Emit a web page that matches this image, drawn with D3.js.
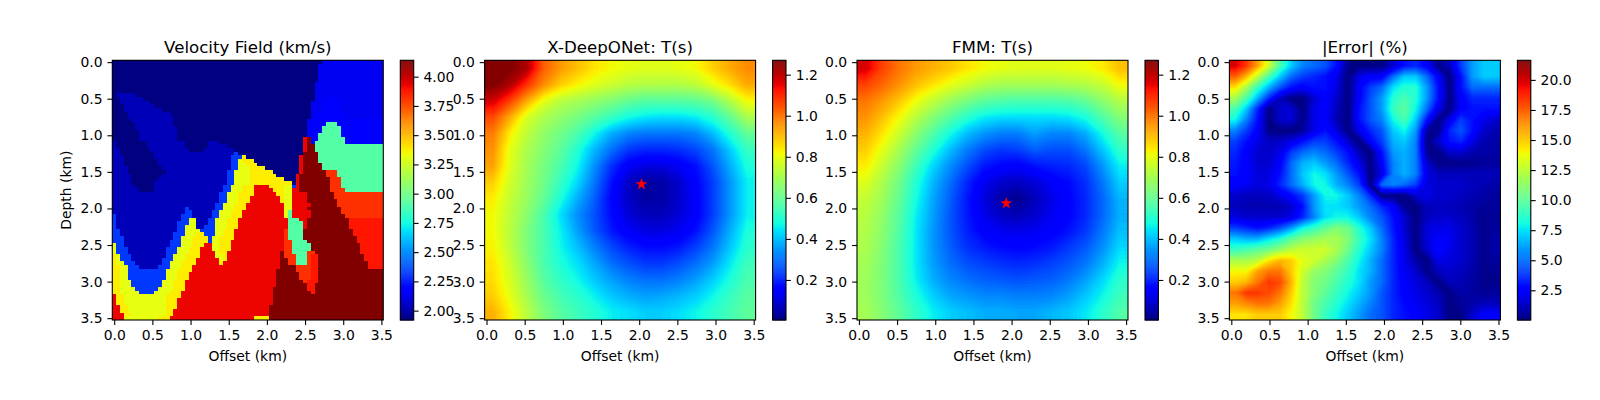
<!DOCTYPE html>
<html>
<head>
<meta charset="utf-8">
<script src="https://cdn.jsdelivr.net/npm/d3@7"></script>
<style>
  body { margin: 0; background: #fff; }
  text { font-family: "DejaVu Sans", sans-serif; fill: #000; }
</style>
</head>
<body>
<div id="chart"></div>
<script>
const titles = ['Velocity Field (km/s)', 'X-DeepONet: T(s)', 'FMM: T(s)', '|Error| (%)'];
const offsetTicks = [0, 0.5, 1, 1.5, 2, 2.5, 3, 3.5];
const velocityTicks = [2, 2.25, 2.5, 2.75, 3, 3.25, 3.5, 3.75, 4];
const timeTicks = [0.2, 0.4, 0.6, 0.8, 1, 1.2];
const errorTicks = [2.5, 5, 7.5, 10, 12.5, 15, 17.5, 20];
const velocityRange = [1.92, 4.14];
const timeRange = [0.005, 1.27];
const errorRange = [0.03, 21.63];
const gridExtent = [-0.025, 3.525];
const xDeepOnetSource = [2.03, 1.67];
const fmmSource = [1.93, 1.93];

// Velocity model, one string per depth row: code + column where that run stops
const velocityCodes = ['A', 'B', 'C', 'c', 'D', 'G', 'E', 'F', 'I', 'J', 'H', 'K'];
const velocityLevels = [1.92, 2.03, 2.14, 2.17, 2.32, 2.92, 3.32, 3.38, 3.83, 3.89, 3.93, 4.14];
const velocityRows = [
  'A55 C71',
  'A54 C71', 'A54 C71', 'A54 C71', 'A54 C71', 'A54 C71',
  'A53 C71', 'A53 C71', 'A53 C71',
  'A1 B6 A53 C71',
  'A2 B8 A53 C56 c59 C71',
  'A2 B10 A52 C55 c60 C71',
  'A3 B11 A52 C55 c60 C71',
  'A3 B13 A52 C55 c60 C71',
  'A4 B15 A52 C53 c61 C71',
  'A4 B16 A52 C53 c61 C71',
  'A5 B16 A51 C53 c71',
  'A6 B16 A51 C52 c56 G59 c71',
  'A6 B17 A51 C52 c55 G60 c71',
  'A7 B17 A51 C52 c55 G60 c71',
  'A7 B17 A51 C52 c54 G60 c71',
  'A7 B17 A50 H51 K52 c54 G61 c71',
  'B1 A9 B19 A25 B28 A50 H51 K52 c53 G61 c71',
  'B1 A9 B19 A25 B30 A50 H51 K53 G71',
  'B2 A10 B20 A24 B32 A50 H51 K53 G71',
  'B2 A11 B32 D33 A50 K54 G71',
  'B3 A11 B31 D34 F35 A49 H50 K54 G71',
  'B3 A12 B31 D33 E34 F37 A49 H50 K54 G71',
  'B3 A12 B31 D33 E35 F38 A49 H50 K55 G71',
  'B4 A13 B31 D33 E36 F40 A49 H50 K55 G71',
  'B4 A14 B30 D32 E36 F42 A49 H50 K56 I59 G71',
  'B5 A13 B30 D32 E36 F43 A48 H49 K56 I59 G71',
  'B5 A12 B30 D32 E36 F45 A48 H49 K57 I60 G71',
  'B5 A11 B30 D32 E36 F47 A48 H49 K57 I60 G71',
  'B6 A11 B29 D31 E34 F37 H41 F45 E47 D48 H49 K57 I60 G71',
  'B7 A11 B29 D31 E34 F37 H42 F45 E47 H49 K57 I61 G71',
  'B28 D30 E33 F37 H43 F45 E47 H51 K58 I71',
  'B28 D30 E33 F36 H44 F45 E47 H51 K58 I71',
  'B28 D30 E33 F36 H44 F45 E47 H51 K59 I71',
  'B27 D29 E32 F35 H45 E47 H52 K59 I71',
  'B19 D20 B27 D29 E32 F35 H45 E47 H51 K60 I71',
  'B19 D21 B26 D28 E31 F34 H45 E46 G47 H52 K60 I71',
  'D1 B18 D21 B26 D28 E31 F34 H45 E46 G47 H52 K61 I71',
  'D1 B18 D20 E22 B25 D27 E30 F33 H46 G49 H51 K62 J71',
  'D1 B17 D20 E22 B25 D27 E30 F33 H46 G50 H51 K62 J71',
  'D1 B17 D19 E22 B24 D27 E30 F33 H46 G50 H51 K62 J71',
  'D2 B17 D19 E23 D27 E29 F32 H45 I46 G50 K63 J71',
  'D2 B16 D19 E22 F24 D27 E29 F32 H45 I46 G50 K63 J71',
  'D3 B16 D18 E21 F25 D26 E28 F32 H45 I46 G50 K64 J71',
  'D3 B15 D18 E21 F25 D26 E28 F31 H45 I47 G51 K64 J71',
  'E1 D3 B15 D18 E21 F24 H26 E28 F31 H45 I47 G52 K65 J71',
  'E1 D4 B14 D17 E20 F23 H26 E28 F31 H45 I47 G52 K65 J71',
  'E1 D4 B14 D17 E20 F23 H27 E28 F30 H44 K45 I47 G51 I53 K65 J71',
  'F1 E2 D5 B14 D16 E19 F23 H27 E29 F30 H44 K45 I48 G51 I52 J54 K66 J71',
  'F1 E2 D5 B13 D16 E19 F22 H28 E29 F30 H44 K46 I48 G51 I52 J54 K66 J71',
  'F1 E3 D6 B13 D15 E18 F22 H28 F29 H44 K46 I48 G51 I52 J54 K67 J71',
  'F2 E4 D7 B12 D15 E18 F21 H44 K48 I52 J54 K67 J71',
  'F2 E4 D14 E17 F21 H43 K48 I52 J54 K71',
  'F2 E4 D14 E17 F20 H43 K49 I52 J54 K71',
  'F2 E4 D14 E17 F20 H43 K49 I52 J54 K71',
  'F2 E5 D13 E16 F19 H43 K50 I51 J54 K71',
  'F2 E5 D13 E16 F19 H43 K51 J53 K71',
  'F2 E6 D12 E16 F19 H42 K51 J53 K71',
  'F2 E7 D11 E15 F18 H42 K52 J53 K71',
  'H1 F3 E14 F18 H42 K71',
  'H1 F3 E14 F17 H42 K71',
  'H1 F3 E14 F17 H42 K71',
  'H2 F4 E14 F17 H41 K71',
  'H2 F4 E14 F16 H41 K71',
  'H3 F5 E14 F16 H41 K71',
  'H3 E12 F15 H37 F41 K71'
];

const xDeepOnetTimes = [
  [1.27, 1.27, 1.22, 1.03, 0.95, 0.90, 0.85, 0.82, 0.80, 0.79, 0.79, 0.80, 0.82, 0.88, 0.93, 0.97],
  [1.27, 1.22, 1.09, 0.97, 0.88, 0.83, 0.79, 0.76, 0.73, 0.72, 0.72, 0.72, 0.74, 0.80, 0.86, 0.93],
  [1.18, 1.07, 0.93, 0.80, 0.73, 0.70, 0.67, 0.64, 0.60, 0.58, 0.58, 0.58, 0.59, 0.63, 0.72, 0.82],
  [1.06, 0.93, 0.78, 0.71, 0.67, 0.63, 0.58, 0.53, 0.48, 0.45, 0.44, 0.44, 0.46, 0.51, 0.60, 0.71],
  [0.99, 0.84, 0.74, 0.67, 0.62, 0.56, 0.47, 0.38, 0.33, 0.31, 0.31, 0.31, 0.33, 0.40, 0.50, 0.60],
  [0.96, 0.80, 0.71, 0.65, 0.59, 0.50, 0.39, 0.30, 0.23, 0.21, 0.21, 0.22, 0.25, 0.31, 0.42, 0.53],
  [0.94, 0.79, 0.70, 0.63, 0.56, 0.47, 0.34, 0.22, 0.14, 0.11, 0.11, 0.14, 0.18, 0.27, 0.38, 0.49],
  [0.88, 0.77, 0.69, 0.62, 0.53, 0.43, 0.31, 0.18, 0.08, 0.04, 0.05, 0.09, 0.16, 0.24, 0.35, 0.46],
  [0.84, 0.75, 0.68, 0.60, 0.49, 0.38, 0.28, 0.16, 0.08, 0.04, 0.05, 0.09, 0.15, 0.24, 0.35, 0.46],
  [0.82, 0.74, 0.66, 0.56, 0.44, 0.34, 0.26, 0.17, 0.10, 0.07, 0.07, 0.10, 0.15, 0.24, 0.35, 0.46],
  [0.82, 0.73, 0.64, 0.56, 0.46, 0.36, 0.27, 0.19, 0.14, 0.11, 0.11, 0.13, 0.18, 0.27, 0.38, 0.49],
  [0.83, 0.74, 0.64, 0.56, 0.47, 0.40, 0.32, 0.25, 0.20, 0.17, 0.17, 0.19, 0.24, 0.31, 0.41, 0.51],
  [0.85, 0.76, 0.66, 0.56, 0.49, 0.44, 0.37, 0.30, 0.26, 0.23, 0.23, 0.26, 0.30, 0.36, 0.45, 0.54],
  [0.86, 0.78, 0.68, 0.58, 0.52, 0.47, 0.41, 0.36, 0.32, 0.30, 0.30, 0.32, 0.36, 0.42, 0.49, 0.56],
  [0.88, 0.80, 0.70, 0.61, 0.55, 0.51, 0.46, 0.41, 0.38, 0.36, 0.37, 0.39, 0.42, 0.47, 0.53, 0.58],
  [0.92, 0.83, 0.73, 0.64, 0.58, 0.54, 0.50, 0.46, 0.44, 0.42, 0.42, 0.44, 0.47, 0.51, 0.55, 0.59]
];

const fmmTimes = [
  [1.18, 1.07, 1.00, 0.95, 0.92, 0.89, 0.85, 0.82, 0.80, 0.79, 0.79, 0.79, 0.80, 0.81, 0.84, 0.90],
  [1.07, 1.02, 0.96, 0.90, 0.85, 0.80, 0.76, 0.72, 0.70, 0.70, 0.70, 0.70, 0.71, 0.72, 0.75, 0.82],
  [1.00, 0.95, 0.89, 0.81, 0.74, 0.68, 0.63, 0.59, 0.57, 0.56, 0.56, 0.56, 0.57, 0.60, 0.66, 0.72],
  [0.96, 0.90, 0.82, 0.73, 0.65, 0.58, 0.51, 0.46, 0.44, 0.44, 0.44, 0.44, 0.45, 0.49, 0.57, 0.65],
  [0.92, 0.85, 0.76, 0.66, 0.57, 0.48, 0.40, 0.35, 0.32, 0.32, 0.36, 0.33, 0.33, 0.38, 0.48, 0.58],
  [0.88, 0.80, 0.70, 0.60, 0.50, 0.40, 0.32, 0.26, 0.23, 0.24, 0.28, 0.26, 0.26, 0.31, 0.41, 0.52],
  [0.84, 0.75, 0.66, 0.54, 0.43, 0.34, 0.26, 0.19, 0.16, 0.15, 0.18, 0.20, 0.21, 0.25, 0.35, 0.46],
  [0.79, 0.71, 0.62, 0.50, 0.39, 0.30, 0.21, 0.13, 0.09, 0.08, 0.10, 0.14, 0.17, 0.22, 0.31, 0.42],
  [0.75, 0.69, 0.60, 0.48, 0.37, 0.28, 0.19, 0.11, 0.05, 0.02, 0.07, 0.12, 0.16, 0.21, 0.29, 0.39],
  [0.73, 0.67, 0.58, 0.46, 0.36, 0.27, 0.19, 0.12, 0.08, 0.06, 0.09, 0.13, 0.16, 0.21, 0.29, 0.38],
  [0.72, 0.66, 0.57, 0.45, 0.35, 0.27, 0.20, 0.15, 0.13, 0.12, 0.13, 0.15, 0.18, 0.23, 0.31, 0.40],
  [0.71, 0.65, 0.56, 0.45, 0.35, 0.28, 0.22, 0.19, 0.17, 0.16, 0.17, 0.19, 0.23, 0.27, 0.34, 0.43],
  [0.70, 0.64, 0.56, 0.45, 0.36, 0.30, 0.26, 0.24, 0.22, 0.21, 0.22, 0.24, 0.27, 0.31, 0.38, 0.47],
  [0.69, 0.64, 0.56, 0.46, 0.38, 0.33, 0.30, 0.28, 0.27, 0.26, 0.27, 0.28, 0.31, 0.36, 0.43, 0.51],
  [0.69, 0.64, 0.57, 0.49, 0.42, 0.37, 0.35, 0.33, 0.33, 0.32, 0.32, 0.33, 0.36, 0.41, 0.47, 0.54],
  [0.70, 0.65, 0.59, 0.52, 0.46, 0.42, 0.40, 0.38, 0.38, 0.37, 0.37, 0.39, 0.41, 0.45, 0.51, 0.57]
];

const errorPercents = [
  [20, 18.5, 16, 13, 9.5, 7, 5.5, 5, 4.5, 3, 0.3, 0.1, 0.1, 0.2, 1.5, 3, 3.5, 2.5, 0.3, 1.2, 4, 6, 7, 7],
  [17.5, 15.5, 12.5, 9.5, 7, 5, 4, 3.5, 3, 2, 0.1, 2, 2.5, 2.5, 5, 7, 7, 5, 2.5, 0.1, 3, 6, 7, 7],
  [14.5, 12, 9, 6.5, 4.5, 3, 2.5, 3, 3, 1.8, 0.1, 2.5, 4, 5, 7.5, 8.5, 8.5, 6, 3, 0.1, 3, 5, 5, 5],
  [12, 9.5, 6.5, 3.5, 1.2, 0.1, 0.1, 1.5, 2.5, 1.5, 0.1, 2.5, 4.5, 6, 8.5, 9.5, 8.5, 6, 3, 0.1, 2.5, 3.5, 3.5, 3.5],
  [9.5, 7, 3.5, 0.1, 1.5, 1.6, 0.1, 2, 2.5, 1.2, 0.1, 3, 4.5, 6, 9, 10, 8, 5, 2, 0.2, 2.5, 3, 3, 3],
  [8, 5.5, 3, 0.1, 1.5, 1.6, 0.3, 2, 2.5, 1, 0.1, 3, 4.5, 5.5, 8, 9.5, 7, 3, 0.2, 2, 4, 3, 2, 1.5],
  [5.5, 4, 2.5, 0.2, 0.1, 0.1, 0.6, 2, 3, 1.8, 0.1, 2, 3.5, 4.5, 7, 8, 6, 0.6, 0.3, 3.5, 4.5, 3, 1.5, 1],
  [4, 3, 2, 1.2, 1.5, 2, 3, 4, 4, 3, 1.5, 0.1, 2.5, 4, 6.5, 7, 5.5, 0.1, 1.5, 3, 3.5, 2, 1, 0.8],
  [3.5, 2.5, 1.5, 1.5, 2, 4, 5, 5.5, 5, 4, 3, 1, 0.1, 3, 6, 6.5, 5.5, 0.4, 0.2, 1.5, 1.5, 1, 0.8, 0.8],
  [3.2, 2.5, 1.5, 1.5, 2.5, 5, 6.5, 7, 6, 5, 3.5, 2, 0.1, 2.5, 5.5, 6.5, 5.5, 1.5, 0.2, 0.2, 0.2, 0.3, 0.5, 0.6],
  [3, 2.5, 1.8, 1.8, 3, 5, 7, 8, 7.5, 6, 4.5, 3, 0.1, 2, 5.5, 6.5, 5.5, 2, 1.2, 1.2, 1.2, 1.2, 1.2, 1.2],
  [2.5, 2.2, 1.8, 2, 3.5, 5, 6.5, 8, 8, 6.5, 5.5, 4, 0.1, 5, 5.5, 5, 4, 1.8, 1.5, 1.5, 1.5, 1.2, 1, 0.8],
  [1.5, 1.2, 1.2, 1.3, 2, 2.8, 4, 6, 8, 8, 7, 5.5, 3.5, 0.1, 0.1, 0.1, 1.5, 2, 1.5, 1.5, 1.2, 1, 0.8, 0.6],
  [1.2, 1, 0.9, 1, 1, 1.5, 3, 6, 7.5, 7.5, 7, 6, 5, 3.5, 2.5, 0.4, 0.1, 1.2, 1.2, 1.2, 1, 0.8, 0.4, 0.6],
  [1.8, 1.5, 1.5, 1.5, 1.5, 2, 3.5, 5.5, 7.5, 8, 8, 7, 5.5, 4.5, 3, 1.5, 0.1, 1.2, 1.5, 1.5, 1.2, 0.8, 0.3, 0.5],
  [4, 3.5, 3, 3.5, 4.5, 6, 8, 9, 10, 11, 10.5, 8.5, 7, 5, 3.2, 1.5, 0.1, 1.8, 2, 2, 1.5, 1, 0.3, 0.6],
  [7, 6.5, 6.5, 7.5, 8.5, 10, 11, 11.5, 12, 12, 11, 9, 7.5, 5.5, 3.5, 1.8, 0.1, 1.8, 2.5, 2.2, 1.5, 1, 0.3, 0.8],
  [9, 9.5, 10, 10.5, 11.5, 12.5, 13, 13, 13, 12, 10.5, 8.5, 7, 5.5, 3.5, 2, 0.1, 1.5, 2.8, 2, 1.5, 1, 0.3, 0.8],
  [12, 12, 12.5, 14.5, 15.5, 15, 13.5, 13, 12, 11, 9.5, 8, 6.5, 5, 3.5, 2, 0.8, 0.1, 2, 1.8, 1.5, 1, 0.3, 0.6],
  [14, 14, 16, 17, 17, 15, 13, 11.5, 11, 10, 9, 7.5, 6.5, 5, 3.5, 2.2, 1.5, 0.2, 1.2, 1.5, 1.2, 0.8, 0.3, 0.4],
  [15, 15.5, 17, 18.5, 18, 15.5, 12.5, 11, 10.5, 9.5, 8.5, 7.5, 6, 5, 3.5, 2.5, 1.8, 1.2, 0.1, 1.2, 1, 0.7, 0.3, 0.3],
  [17, 18.5, 18.5, 18, 17, 15, 12.5, 11, 10, 9, 8, 7, 6, 4.5, 3.5, 2.5, 2, 1.5, 1, 0.1, 0.8, 0.7, 0.4, 0.6],
  [16, 16.5, 17, 17, 16, 14.5, 12.5, 10.5, 9.5, 8.5, 7.5, 6.5, 5.5, 4.5, 3.5, 2.8, 2.2, 1.8, 1.3, 0.1, 0.5, 0.8, 1.2, 1.2],
  [14.5, 14.5, 15, 15, 15, 14, 12.5, 10.5, 9, 8, 7, 6, 5, 4.5, 3.5, 3, 2.5, 2, 1.5, 0.1, 0.2, 1.5, 2.5, 2.5]
];

// Layout in pixels
const plotLefts = [112.3, 484.6, 857, 1229.4];
const plotWidth = 271;
const plotTop = 60.3;
const plotHeight = 259.7;
const barGap = 17;
const barWidth = 13.4;
const tickLength = 4.9;
const tickPadding = 4.9;
const lineWidth = 1.1;
const bandCount = 128;

// matplotlib jet, channel by channel
const jetRed = d3.scaleLinear().domain([0, 0.35, 0.66, 0.89, 1]).range([0, 0, 1, 1, 0.5]).clamp(true);
const jetGreen = d3.scaleLinear().domain([0, 0.125, 0.375, 0.64, 0.91, 1]).range([0, 0, 1, 1, 0, 0]).clamp(true);
const jetBlue = d3.scaleLinear().domain([0, 0.11, 0.34, 0.65, 1]).range([0.5, 1, 1, 0, 0]).clamp(true);
const jet = t => d3.rgb(jetRed(t) * 255, jetGreen(t) * 255, jetBlue(t) * 255).formatHex();

const svg = d3.select('#chart')
  .append('svg')
  .attr('width', 1600)
  .attr('height', 400)
  .style('display', 'block');

function styleAxis(g) {
  g.attr('font-family', '"DejaVu Sans", sans-serif').attr('font-size', 13.9);
  g.selectAll('line').attr('stroke', '#000').attr('stroke-width', lineWidth);
  g.select('.domain').remove();
}

function drawVelocity(g, x, y, colour) {
  const cells = [];
  velocityRows.forEach((row, r) => {
    let start = 0;
    row.split(' ').forEach(run => {
      const end = +run.slice(1);
      const value = velocityLevels[velocityCodes.indexOf(run[0])];
      d3.range(start, end).forEach(c => cells.push({ r, c, value }));
      start = end;
    });
  });
  const band = d3.range(71);
  const col = d3.scaleBand().domain(band).range(x.range());
  const row = d3.scaleBand().domain(band).range(y.range());
  g.selectAll('rect')
    .data(cells)
    .join('rect')
    .attr('x', d => col(d.c))
    .attr('y', d => row(d.r))
    .attr('width', col.bandwidth())
    .attr('height', row.bandwidth())
    .attr('fill', d => colour(d.value))
    .attr('shape-rendering', 'crispEdges');
}

function drawField(g, rows, x, y, colour, range, id) {
  const n = rows[0].length;
  const m = rows.length;
  // repeat the outer rows and columns once so the bands do not cut the corners; the clip hides them
  const wide = rows.map(r => [r[0], ...r, r[n - 1]]);
  const padded = [wide[0], ...wide, wide[m - 1]];
  const step = (range[1] - range[0]) / bandCount;
  const thresholds = d3.range(bandCount).map(i => range[0] + step * i);
  const bands = d3.contours().size([n + 2, m + 2]).thresholds(thresholds)(padded.flat());
  const px = d3.scaleLinear().domain([1, n + 1]).range(x.range());
  const py = d3.scaleLinear().domain([1, m + 1]).range(y.range());
  const path = d3.geoPath(d3.geoTransform({
    point(a, b) { this.stream.point(px(a), py(b)); }
  }));
  g.append('clipPath')
    .attr('id', id)
    .append('rect')
    .attr('x', x.range()[0])
    .attr('y', y.range()[0])
    .attr('width', plotWidth)
    .attr('height', plotHeight);
  g.attr('clip-path', `url(#${id})`);
  g.append('rect')
    .attr('x', x.range()[0])
    .attr('y', y.range()[0])
    .attr('width', plotWidth)
    .attr('height', plotHeight)
    .attr('fill', colour(range[0]));
  g.selectAll('path')
    .data(bands)
    .join('path')
    .attr('d', path)
    .attr('fill', d => colour(d.value + step / 2));
}

function drawPanel(i, range, barTicks, barFormat, drawCells, source) {
  const left = plotLefts[i];
  const x = d3.scaleLinear().domain(gridExtent).range([left, left + plotWidth]);
  const y = d3.scaleLinear().domain(gridExtent).range([plotTop, plotTop + plotHeight]);
  const colour = d3.scaleLinear().domain(range).range([0, 1]);
  const fill = v => jet(colour(v));

  const panel = svg.append('g');
  drawCells(panel.append('g'), x, y, fill, range);

  if (source) {
    panel.append('path')
      .attr('d', d3.symbol(d3.symbolStar, 45))
      .attr('transform', `translate(${x(source[0])},${y(source[1])})`)
      .attr('fill', '#ff0000');
  }

  panel.append('rect')
    .attr('x', left)
    .attr('y', plotTop)
    .attr('width', plotWidth)
    .attr('height', plotHeight)
    .attr('fill', 'none')
    .attr('stroke', '#000')
    .attr('stroke-width', lineWidth);

  panel.append('g')
    .attr('transform', `translate(0,${plotTop + plotHeight})`)
    .call(d3.axisBottom(x).tickValues(offsetTicks).tickFormat(d3.format('.1f')).tickSize(tickLength).tickPadding(tickPadding))
    .call(styleAxis);

  panel.append('g')
    .attr('transform', `translate(${left},0)`)
    .call(d3.axisLeft(y).tickValues(offsetTicks).tickFormat(d3.format('.1f')).tickSize(tickLength).tickPadding(tickPadding))
    .call(styleAxis);

  panel.append('text')
    .attr('x', left + plotWidth / 2)
    .attr('y', 53)
    .attr('text-anchor', 'middle')
    .attr('font-size', 16.67)
    .text(titles[i]);

  panel.append('text')
    .attr('x', left + plotWidth / 2)
    .attr('y', 361)
    .attr('text-anchor', 'middle')
    .attr('font-size', 13.9)
    .text('Offset (km)');

  if (i === 0) {
    panel.append('text')
      .attr('transform', `translate(71,${plotTop + plotHeight / 2}) rotate(-90)`)
      .attr('text-anchor', 'middle')
      .attr('font-size', 13.9)
      .text('Depth (km)');
  }

  // Colorbar
  const barLeft = left + plotWidth + barGap;
  const barScale = d3.scaleLinear().domain(range).range([plotTop + plotHeight, plotTop]);
  const steps = d3.range(256);
  const stepHeight = plotHeight / 256;
  panel.append('g')
    .selectAll('rect')
    .data(steps)
    .join('rect')
    .attr('x', barLeft)
    .attr('y', d => plotTop + plotHeight - (d + 1) * stepHeight)
    .attr('width', barWidth)
    .attr('height', stepHeight + 0.5)
    .attr('fill', d => jet((d + 0.5) / 256));

  panel.append('rect')
    .attr('x', barLeft)
    .attr('y', plotTop)
    .attr('width', barWidth)
    .attr('height', plotHeight)
    .attr('fill', 'none')
    .attr('stroke', '#000')
    .attr('stroke-width', lineWidth);

  panel.append('g')
    .attr('transform', `translate(${barLeft + barWidth},0)`)
    .call(d3.axisRight(barScale).tickValues(barTicks).tickFormat(d3.format(barFormat)).tickSize(tickLength).tickPadding(tickPadding))
    .call(styleAxis);
}

drawPanel(0, velocityRange, velocityTicks, '.2f', drawVelocity);
drawPanel(1, timeRange, timeTicks, '.1f', (g, x, y, fill, range) => drawField(g, xDeepOnetTimes, x, y, fill, range, 'clip-xdeeponet'), xDeepOnetSource);
drawPanel(2, timeRange, timeTicks, '.1f', (g, x, y, fill, range) => drawField(g, fmmTimes, x, y, fill, range, 'clip-fmm'), fmmSource);
drawPanel(3, errorRange, errorTicks, '.1f', (g, x, y, fill, range) => drawField(g, errorPercents, x, y, fill, range, 'clip-error'));
</script>
</body>
</html>
